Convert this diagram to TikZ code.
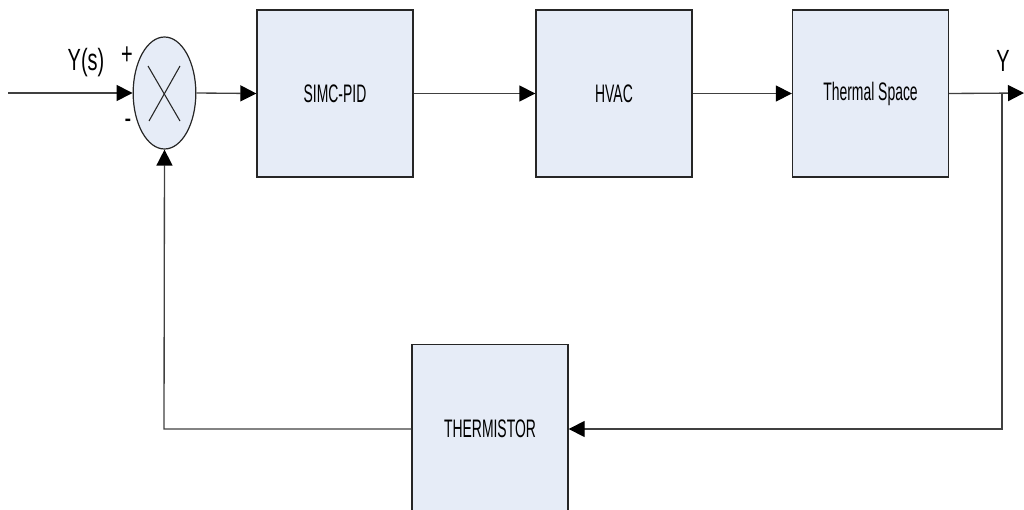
\documentclass[tikz,border=0pt]{standalone}
\usepackage{fontspec}
\setmainfont[FakeStretch=0.55]{Liberation Sans}
\newfontfamily\lblfont[FakeStretch=0.65]{Liberation Sans}
\usetikzlibrary{arrows.meta,shapes.geometric}
\definecolor{boxfill}{HTML}{E6ECF7}
\definecolor{linecol}{HTML}{404040}
\tikzset{
  blockbox/.style={draw=black!85, line width=1pt, fill=boxfill, minimum width=117pt, minimum height=125pt, inner sep=0pt, font=\fontsize{19pt}{22pt}\selectfont},
  sumnode/.style={draw=black!85, line width=0.9pt, fill=boxfill, ellipse, minimum width=47pt, minimum height=84pt, inner sep=0pt},
  sig/.style={draw=linecol, line width=1pt},
  sigarrow/.style={sig, -{Triangle[length=12pt,width=12pt,fill=black,color=black]}},
  lbl/.style={font=\lblfont\fontsize{23pt}{26pt}\selectfont, inner sep=0pt},
}
\begin{document}
\begin{tikzpicture}[x=0.75pt,y=-0.75pt]
\useasboundingbox (0,0) rectangle (1024,510);
% blocks
\node[blockbox] (pid) at (335,93.5) {SIMC-PID};
\node[blockbox] (hvac) at (614,93.5) {HVAC};
\node[blockbox] (space) at (870.5,93.5) {Thermal Space};
\node[blockbox, minimum height=167pt] (therm) at (490,456) {};
\node[font=\fontsize{19pt}{22pt}\selectfont, inner sep=0pt] (thermtxt) at (490,429) {THERMISTOR};
% summing junction
\node[sumnode] (sum) at (164.5,93) {};
\draw[line width=0.8pt, black!85] (148,66) -- (180,121);
\draw[line width=0.8pt, black!85] (180,66) -- (149,121);
% coordinates
\coordinate (in) at (8,93);
\coordinate (out) at (1024,93);
\coordinate (tap) at (1002,93);
\coordinate (c1) at (1002,429);
\coordinate (c2) at (164,429);
% connectors
\draw[sigarrow] (in) -- (sum.west);
\draw[sigarrow] (sum.east) -- (pid.west);
\draw[sigarrow] (pid.east) -- (hvac.west);
\draw[sigarrow] (hvac.east) -- (space.west);
\draw[sigarrow] (space.east) -- (out);
\draw[sigarrow] (tap) -- (c1) -- (therm.east |- c1);
\draw[sigarrow] (therm.west |- c2) -- (c2) -- (sum.south);
% labels
\node[lbl] (ys) at (86,63) {Y(s)};
\node[lbl] (plus) at (127,56) {+};
\node[lbl] (minus) at (128,124) {-};
\node[lbl] (yout) at (1003,61) {Y};
\end{tikzpicture}
\end{document}
